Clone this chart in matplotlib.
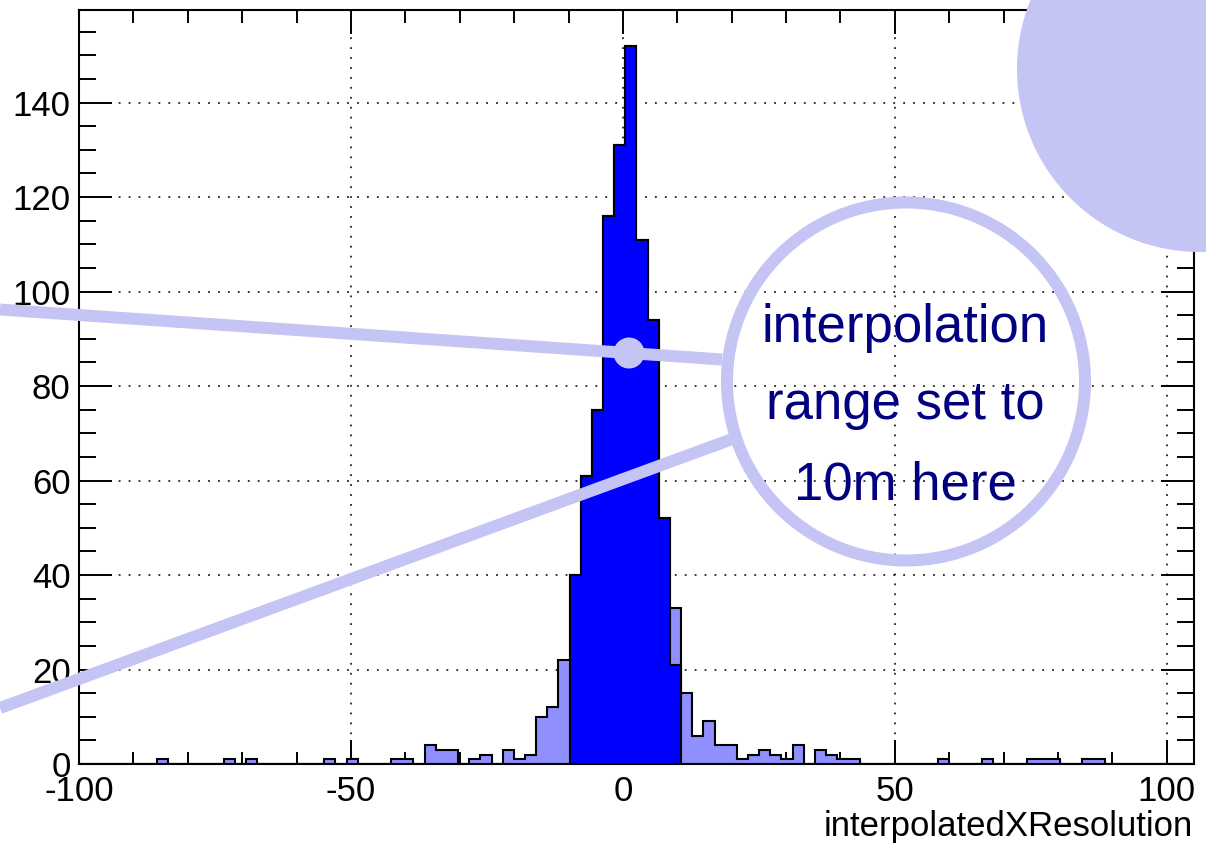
import numpy as np
import matplotlib
matplotlib.use('Agg')
import matplotlib.pyplot as plt
from matplotlib.patches import Circle
from matplotlib.ticker import MultipleLocator

# ---------------- data ----------------
bin_lo, bin_hi, n_bins = -100.0, 105.0, 100
all_counts = [0, 0, 0, 0, 0, 0, 0, 1, 0, 0,
              0, 0, 0, 1, 0, 1, 0, 0, 0, 0,
              0, 0, 1, 0, 1, 0, 0, 0, 1, 1,
              0, 4, 3, 3, 0, 1, 2, 0, 3, 1,
              2, 10, 12, 22, 40, 61, 75, 116, 131, 152,
              111, 94, 52, 33, 15, 6, 9, 4, 4, 1,
              2, 3, 2, 1, 4, 0, 3, 2, 1, 1,
              0, 0, 0, 0, 0, 0, 0, 1, 0, 0,
              0, 1, 0, 0, 0, 1, 1, 1, 0, 0,
              1, 1, 0, 0, 0, 0, 0, 0, 0, 0]
in_range_counts = ([0] * 44 +
                   [40, 61, 75, 116, 131, 152, 111, 94, 52, 21] +
                   [0] * 46)
x_ticks = [-100, -50, 0, 50, 100]
y_ticks = [0, 20, 40, 60, 80, 100, 120, 140]
x_title = "interpolatedXResolution"
note_lines = ["interpolation", "range set to", "10m here"]

# ---------------- style ----------------
plt.rcParams['font.family'] = ['Liberation Sans', 'DejaVu Sans']

W, H = 1206, 843
fig = plt.figure(figsize=(W / 100, H / 100), dpi=100)
fig.patch.set_facecolor('white')

ax = fig.add_axes([79 / W, (H - 764) / H, (1194 - 79) / W, (764 - 10) / H])
edges = np.linspace(bin_lo, bin_hi, n_bins + 1)

light = '#8f8fff'
ax.stairs(all_counts, edges, fill=True, facecolor=light, edgecolor='none', zorder=2)
ax.stairs(all_counts, edges, baseline=0, color='black', lw=1.5, zorder=3)
ax.stairs(in_range_counts, edges, fill=True, facecolor='#0000ff', edgecolor='none', zorder=4)
ax.stairs(in_range_counts, edges, baseline=0, color='black', lw=1.5, zorder=5)

ax.set_xlim(bin_lo, bin_hi)
ax.set_ylim(0, 159.6)
ax.set_xticks(x_ticks)
ax.set_xticklabels([str(v) for v in x_ticks])
ax.set_yticks(y_ticks)
ax.set_yticklabels([str(v) for v in y_ticks])
ax.xaxis.set_minor_locator(MultipleLocator(10))
ax.yaxis.set_minor_locator(MultipleLocator(5))

ax.tick_params(which='both', direction='in', top=True, right=True, width=1.4,
               labelsize=25, colors='black')
ax.tick_params(axis='x', which='major', length=17, pad=8)
ax.tick_params(axis='x', which='minor', length=9)
ax.tick_params(axis='y', which='major', length=24, pad=6)
ax.tick_params(axis='y', which='minor', length=12)
for sp in ax.spines.values():
    sp.set_linewidth(1.5)
    sp.set_zorder(6)

ax.grid(True, which='major', color='#222222', linestyle=(0, (1, 4.5)), lw=1.3, zorder=1)
ax.set_axisbelow(True)

fig.text(1193 / W, (H - 836) / H, x_title, ha='right', va='baseline', fontsize=25)

# ---------------- annotation overlay (pixel coordinates) ----------------
ov = fig.add_axes([0, 0, 1, 1], zorder=10)
ov.set_xlim(0, W)
ov.set_ylim(H, 0)
ov.axis('off')
ov.patch.set_alpha(0)

lav = '#c4c4f5'
lw_px = 12 * 72 / 100
ov.plot([0, 722], [309.5, 359.5], color=lav, lw=lw_px, solid_capstyle='butt')
ov.plot([0, 735], [708, 438], color=lav, lw=lw_px, solid_capstyle='butt')
ov.add_patch(Circle((629, 353), 15.5, facecolor=lav, edgecolor='none'))
ov.add_patch(Circle((906, 381.5), 179, facecolor='none', edgecolor=lav, lw=lw_px))
ov.add_patch(Circle((1200, 69), 183, facecolor=lav, edgecolor='none'))

for txt, yb in zip(note_lines, [341.7, 419.3, 500]):
    ov.text(905, yb, txt, ha='center', va='baseline', fontsize=38,
            color='#000080')

fig.savefig('out.png', dpi=100, facecolor='white')
